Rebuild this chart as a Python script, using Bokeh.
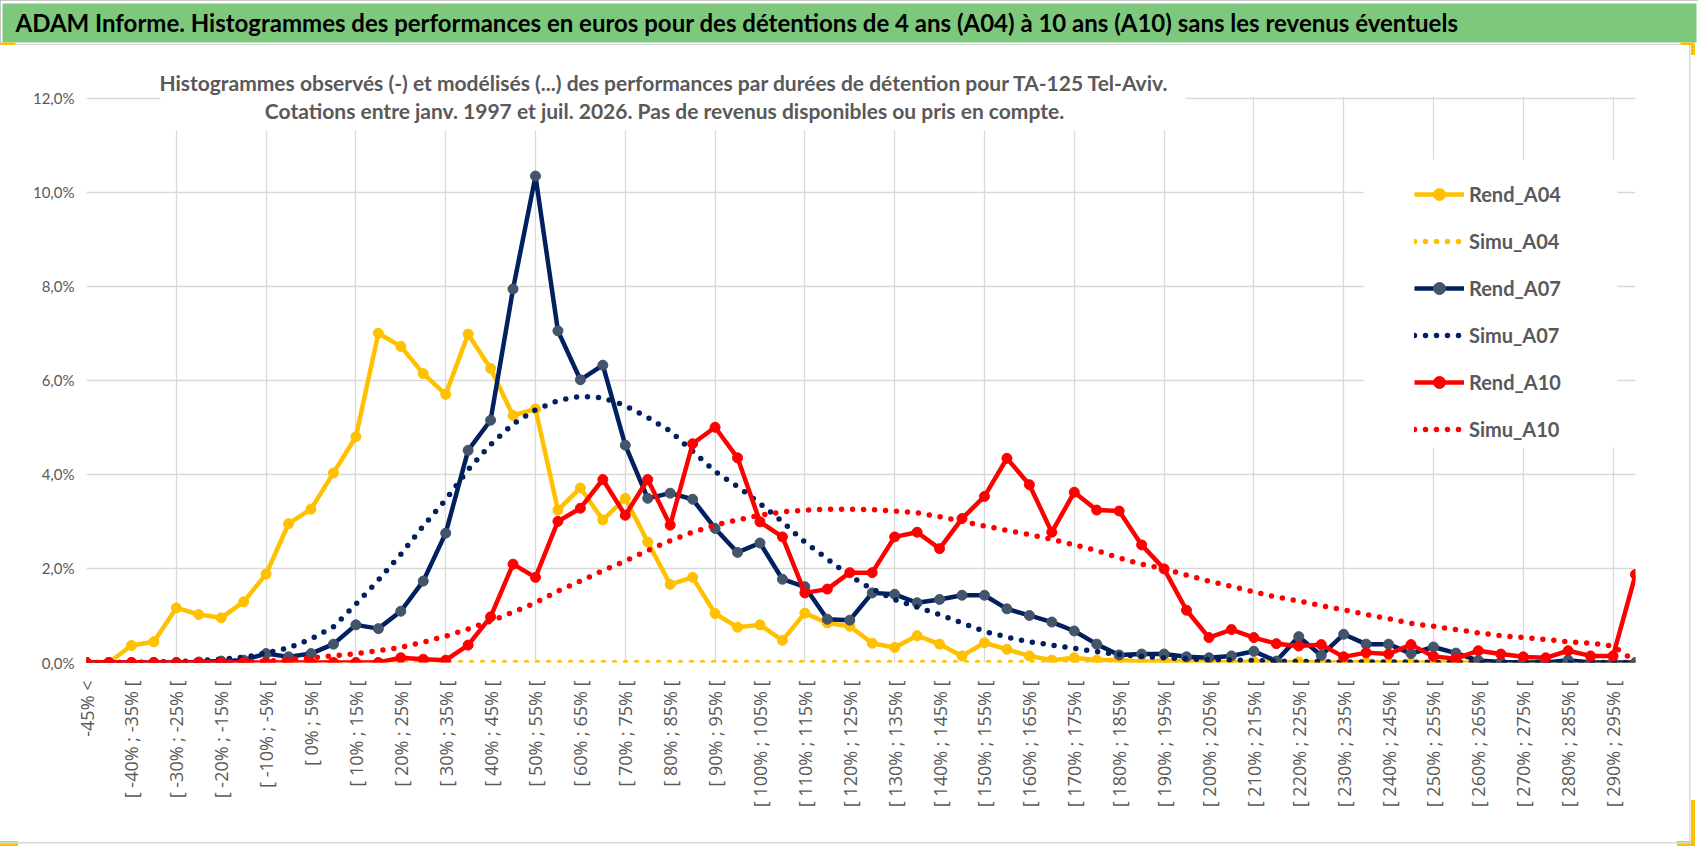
import math
from bokeh.plotting import figure
from bokeh.layouts import column
from bokeh.models import FixedTicker, Range1d, Label, BoxAnnotation, Legend, LegendItem
from bokeh.embed import file_html
from bokeh.resources import INLINE

# classes de performance (5 points), une étiquette sur deux affichée
categories = [
    "-45% <", "[ -45% ; -40% [", "[ -40% ; -35% [", "[ -35% ; -30% [", "[ -30% ; -25% [",
    "[ -25% ; -20% [", "[ -20% ; -15% [", "[ -15% ; -10% [", "[ -10% ; -5% [", "[ -5% ; 0% [",
    "[ 0% ; 5% [", "[ 5% ; 10% [", "[ 10% ; 15% [", "[ 15% ; 20% [", "[ 20% ; 25% [",
    "[ 25% ; 30% [", "[ 30% ; 35% [", "[ 35% ; 40% [", "[ 40% ; 45% [", "[ 45% ; 50% [",
    "[ 50% ; 55% [", "[ 55% ; 60% [", "[ 60% ; 65% [", "[ 65% ; 70% [", "[ 70% ; 75% [",
    "[ 75% ; 80% [", "[ 80% ; 85% [", "[ 85% ; 90% [", "[ 90% ; 95% [", "[ 95% ; 100% [",
    "[ 100% ; 105% [", "[ 105% ; 110% [", "[ 110% ; 115% [", "[ 115% ; 120% [", "[ 120% ; 125% [",
    "[ 125% ; 130% [", "[ 130% ; 135% [", "[ 135% ; 140% [", "[ 140% ; 145% [", "[ 145% ; 150% [",
    "[ 150% ; 155% [", "[ 155% ; 160% [", "[ 160% ; 165% [", "[ 165% ; 170% [", "[ 170% ; 175% [",
    "[ 175% ; 180% [", "[ 180% ; 185% [", "[ 185% ; 190% [", "[ 190% ; 195% [", "[ 195% ; 200% [",
    "[ 200% ; 205% [", "[ 205% ; 210% [", "[ 210% ; 215% [", "[ 215% ; 220% [", "[ 220% ; 225% [",
    "[ 225% ; 230% [", "[ 230% ; 235% [", "[ 235% ; 240% [", "[ 240% ; 245% [", "[ 245% ; 250% [",
    "[ 250% ; 255% [", "[ 255% ; 260% [", "[ 260% ; 265% [", "[ 265% ; 270% [", "[ 270% ; 275% [",
    "[ 275% ; 280% [", "[ 280% ; 285% [", "[ 285% ; 290% [", "[ 290% ; 295% [", "> 295%",
]

# fréquences en %
rend_a04 = [0.0, 0.0, 0.36, 0.44, 1.16, 1.02, 0.95, 1.29, 1.88, 2.95,
            3.26, 4.03, 4.80, 7.00, 6.72, 6.14, 5.70, 6.98, 6.25, 5.25,
            5.39, 3.24, 3.71, 3.03, 3.49, 2.56, 1.66, 1.81, 1.04, 0.75,
            0.80, 0.47, 1.05, 0.84, 0.77, 0.41, 0.32, 0.57, 0.39, 0.14,
            0.42, 0.28, 0.14, 0.05, 0.10, 0.05, 0.06, 0.01, 0.04, 0.02,
            0.03, 0.0, 0.02, 0.0, 0.01, 0.0, 0.0, 0.01, 0.0, 0.0,
            0.0, 0.0, 0.0, 0.0, 0.0, 0.0, 0.0, 0.0, 0.0, 0.0]
simu_a04 = [0.0, 0.0, 0.0, 0.0, 0.0, 0.0, 0.0, 0.0, 0.0, 0.0,
            0.0, 0.0, 0.0, 0.0, 0.0, 0.0, 0.0, 0.0, 0.0, 0.0,
            0.0, 0.0, 0.0, 0.0, 0.0, 0.0, 0.0, 0.0, 0.0, 0.0,
            0.0, 0.0, 0.0, 0.0, 0.0, 0.0, 0.0, 0.0, 0.0, 0.0,
            0.0, 0.0, 0.0, 0.0, 0.0, 0.0, 0.0, 0.0, 0.0, 0.0,
            0.0, 0.0, 0.0, 0.0, 0.0, 0.0, 0.0, 0.0, 0.0, 0.0,
            0.0, 0.0, 0.0, 0.0, 0.0, 0.0, 0.0, 0.0, 0.0, 0.0]
rend_a07 = [0.0, 0.0, 0.0, 0.0, 0.0, 0.01, 0.03, 0.05, 0.19, 0.12,
            0.19, 0.39, 0.80, 0.72, 1.09, 1.73, 2.75, 4.51, 5.15, 7.94,
            10.34, 7.05, 6.01, 6.32, 4.62, 3.49, 3.60, 3.47, 2.85, 2.34,
            2.54, 1.77, 1.61, 0.92, 0.90, 1.48, 1.45, 1.27, 1.34, 1.43,
            1.43, 1.14, 1.00, 0.86, 0.67, 0.39, 0.16, 0.18, 0.18, 0.12,
            0.10, 0.14, 0.24, 0.03, 0.55, 0.15, 0.60, 0.39, 0.39, 0.19,
            0.33, 0.20, 0.04, 0.01, 0.0, 0.0, 0.05, 0.0, 0.0, 0.0]
simu_a07 = [0.0, 0.0, 0.0, 0.01, 0.02, 0.04, 0.07, 0.11, 0.20, 0.31,
            0.50, 0.76, 1.24, 1.75, 2.30, 2.90, 3.46, 4.10, 4.63, 5.07,
            5.37, 5.57, 5.66, 5.63, 5.46, 5.21, 4.92, 4.49, 4.06, 3.74,
            3.38, 2.99, 2.56, 2.20, 1.84, 1.56, 1.34, 1.18, 1.02, 0.84,
            0.66, 0.54, 0.44, 0.37, 0.30, 0.23, 0.17, 0.13, 0.10, 0.08,
            0.06, 0.05, 0.04, 0.03, 0.02, 0.02, 0.01, 0.01, 0.01, 0.01,
            0.0, 0.0, 0.0, 0.0, 0.0, 0.0, 0.0, 0.0, 0.0, 0.0]
rend_a10 = [0.0, 0.0, 0.0, 0.0, 0.0, 0.0, 0.0, 0.0, 0.0, 0.0,
            0.0, 0.0, 0.0, 0.0, 0.10, 0.07, 0.05, 0.37, 0.97, 2.09,
            1.81, 3.00, 3.28, 3.89, 3.13, 3.89, 2.92, 4.65, 5.00, 4.35,
            2.99, 2.67, 1.48, 1.56, 1.91, 1.91, 2.67, 2.77, 2.42, 3.06,
            3.53, 4.34, 3.78, 2.77, 3.62, 3.24, 3.22, 2.50, 1.99, 1.11,
            0.53, 0.70, 0.53, 0.40, 0.35, 0.38, 0.12, 0.21, 0.18, 0.38,
            0.13, 0.08, 0.25, 0.18, 0.12, 0.10, 0.25, 0.14, 0.14, 1.87]
simu_a10 = [0.0, 0.0, 0.0, 0.0, 0.0, 0.01, 0.01, 0.02, 0.03, 0.06,
            0.10, 0.14, 0.19, 0.25, 0.32, 0.43, 0.56, 0.71, 0.88, 1.07,
            1.27, 1.52, 1.73, 1.95, 2.16, 2.38, 2.59, 2.77, 2.92, 3.03,
            3.13, 3.20, 3.24, 3.26, 3.26, 3.25, 3.22, 3.18, 3.10, 3.00,
            2.90, 2.81, 2.72, 2.62, 2.50, 2.38, 2.22, 2.09, 1.99, 1.86,
            1.73, 1.62, 1.50, 1.39, 1.31, 1.21, 1.12, 1.02, 0.93, 0.83,
            0.77, 0.70, 0.63, 0.57, 0.53, 0.49, 0.44, 0.41, 0.35, 0.02]

y_ticks = [0, 2, 4, 6, 8, 10, 12]
y_labels = ["0,0%", "2,0%", "4,0%", "6,0%", "8,0%", "10,0%", "12,0%"]

title = ("ADAM Informe. Histogrammes des performances en euros pour des détentions "
         "de 4 ans (A04) à 10 ans (A10) sans les revenus éventuels")
sub1 = ("Histogrammes observés (-) et modélisés (...) des performances par durées "
        "de détention pour TA-125 Tel-Aviv.")
sub2 = "Cotations entre janv. 1997 et juil. 2026. Pas de revenus disponibles ou pris en compte."

FONT = "Lato"
GREY = "#595959"
YELLOW = "#FFC000"
W = 1698

# --- bandeau vert du titre ---
BAND_H = 45
band = figure(width=W, height=BAND_H, output_backend="svg", toolbar_location=None,
              x_range=Range1d(0, W), y_range=Range1d(BAND_H, 0), title=None,
              x_axis_type=None, y_axis_type=None, min_border=0)
band.frame_align = False
band.outline_line_color = None
band.background_fill_color = "white"
band.border_fill_color = "white"
band.add_layout(BoxAnnotation(left=2, right=W - 2, top=3, bottom=42,
                              fill_color="#7DC87D", fill_alpha=1, line_color=None))
band.add_layout(BoxAnnotation(left=0, right=W - 8, top=43.5, bottom=45,
                              fill_color="#D9D9D9", fill_alpha=1, line_color=None))
band.add_layout(BoxAnnotation(left=0, right=15, top=42, bottom=45,
                              fill_color=YELLOW, fill_alpha=1, line_color=None))
band.add_layout(BoxAnnotation(left=W - 18, right=W - 4, top=42, bottom=45,
                              fill_color=YELLOW, fill_alpha=1, line_color=None))
band.add_layout(Label(x=15, y=22, text=title, text_font=FONT, text_font_style="bold",
                      text_font_size="24px", text_color="black", text_baseline="middle"))

# --- graphique ---
H = 808
LB, RB, BB = 86, 63, 191
FH = H - BB                      # hauteur du cadre
TOP12 = 52.5                     # distance entre le haut du cadre et la ligne 12 %
y_end = 12 * FH / (FH - TOP12)

# bordure claire de la zone de graphique et poignées jaunes (fond CSS sous le canevas)
deco = [("#D9D9D9", 1689, 0, 1.5, 798), ("#D9D9D9", 0, 797, 1691, 1.5),
        (YELLOW, 0, 796, 18, 5), (YELLOW, 1677, 796, 18, 5),
        (YELLOW, 1691, 755, 4, 46), (YELLOW, 1691, 0, 4, 10)]
styles = {
    "background-color": "white",
    "background-image": ", ".join(f"linear-gradient({c},{c})" for c, *_ in deco),
    "background-size": ", ".join(f"{w}px {h}px" for _, _, _, w, h in deco),
    "background-position": ", ".join(f"{x0}px {y0}px" for _, x0, y0, _, _ in deco),
    "background-repeat": "no-repeat",
}

p = figure(width=W, height=H, output_backend="svg", toolbar_location=None, title=None,
           x_range=Range1d(0, 69), y_range=Range1d(0, y_end),
           min_border_left=LB, min_border_right=RB, min_border_top=0, min_border_bottom=BB,
           styles=styles)
p.frame_align = False
p.outline_line_color = None
p.background_fill_color = "white"
p.border_fill_alpha = 0

x = list(range(len(categories)))

p.xaxis.ticker = FixedTicker(ticks=list(range(0, 69, 2)))
p.xaxis.major_label_overrides = {i: categories[i] for i in range(0, 69, 2)}
p.xaxis.major_label_orientation = math.pi / 2
p.xaxis.major_label_text_font = "Open Sans"
p.xaxis.major_label_text_font_size = "18px"
p.xaxis.major_label_text_color = GREY
p.xaxis.major_label_standoff = 18
p.yaxis.ticker = FixedTicker(ticks=y_ticks)
p.yaxis.major_label_overrides = dict(zip(y_ticks, y_labels))
p.yaxis.major_label_text_font = FONT
p.yaxis.major_label_text_font_size = "15px"
p.yaxis.major_label_text_color = GREY
p.yaxis.major_label_standoff = 12
for ax in (p.xaxis, p.yaxis):
    ax.axis_line_color = None
    ax.major_tick_line_color = None
    ax.minor_tick_line_color = None
    ax.major_tick_out = 0
    ax.major_tick_in = 0

p.xgrid.ticker = FixedTicker(ticks=list(range(0, 69, 4)))
p.xgrid.grid_line_color = "#D9D9D9"
p.xgrid.grid_line_width = 1.3
p.ygrid.grid_line_color = "#D9D9D9"
p.ygrid.grid_line_width = 1.3


def sbox(l, t, r, b, color="white"):
    # coordonnées de page -> écran relatif au cadre
    fb = 45 + FH
    return BoxAnnotation(left=l - LB, right=r - LB, top=fb - t, bottom=fb - b,
                         left_units="screen", right_units="screen",
                         top_units="screen", bottom_units="screen",
                         fill_color=color, fill_alpha=1, line_color=None)


def slabel(px, py, text, **kw):
    fb = 45 + FH
    return Label(x=px - LB, y=fb - py, x_units="screen", y_units="screen", text=text, **kw)


# masque au-dessus de la ligne 12 % et cadre blanc des sous-titres
p.add_layout(sbox(LB - 2, 40, W, 45 + TOP12 - 1.2))
p.add_layout(sbox(160, 40, 1185, 130))
p.add_layout(slabel(664, 82, sub1, text_font=FONT, text_font_style="bold",
                    text_font_size="21px", text_color=GREY, text_baseline="middle",
                    text_align="center"))
p.add_layout(slabel(664, 110, sub2, text_font=FONT, text_font_style="bold",
                    text_font_size="21px", text_color=GREY, text_baseline="middle",
                    text_align="center"))

series = [
    ("Rend_A04", rend_a04, YELLOW, YELLOW, False),
    ("Simu_A04", simu_a04, YELLOW, None, True),
    ("Rend_A07", rend_a07, "#002060", "#44546A", False),
    ("Simu_A07", simu_a07, "#002060", None, True),
    ("Rend_A10", rend_a10, "#FF0000", "#FF0000", False),
    ("Simu_A10", simu_a10, "#FF0000", None, True),
]
items = []
for name, vals, color, mcolor, dotted in series:
    if dotted:
        r = p.line(x, vals, line_color=color, line_width=5.5, line_dash="0 11", line_cap="round")
        items.append(LegendItem(label=name, renderers=[r]))
    else:
        r1 = p.line(x, vals, line_color=color, line_width=4.5, line_join="round")
        r2 = p.scatter(x, vals, size=10, marker="circle", fill_color=mcolor, line_color=mcolor)
        items.append(LegendItem(label=name, renderers=[r1, r2]))

# fond blanc de la légende
p.add_layout(sbox(1363, 159, 1617, 447))
legend = Legend(items=items, location=(1328, 218), padding=10, spacing=17, margin=0,
                glyph_width=50, glyph_height=30, label_height=30, label_standoff=5,
                background_fill_alpha=0, border_line_color=None,
                label_text_font=FONT, label_text_font_style="bold",
                label_text_font_size="20px", label_text_color=GREY)
p.add_layout(legend)

layout = column(band, p, styles={"outline": "1.5px solid #8C8C8C", "outline-offset": "-1.5px"})

open("out.html", "w").write(file_html(layout, INLINE))
